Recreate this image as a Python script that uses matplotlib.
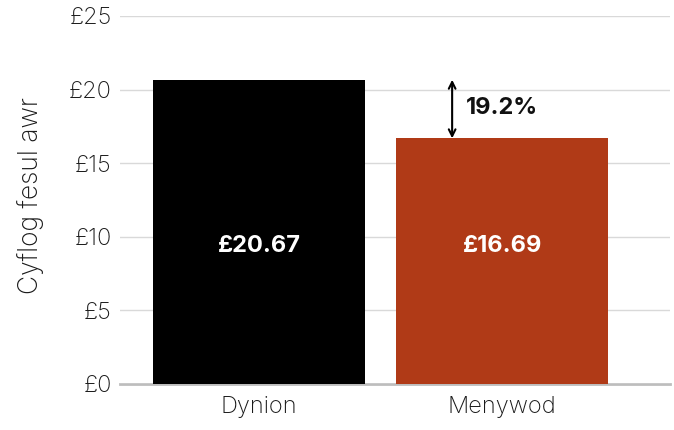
import matplotlib.pyplot as plt

plt.rcParams['font.family'] = ['Inter', 'DejaVu Sans']

groups = ['Dynion', 'Menywod']
wages = [20.67, 16.69]
bar_labels = ['£20.67', '£16.69']
gap_label = '19.2%'
colors = ['#000000', '#b03a17']

fig = plt.figure(figsize=(6.74, 4.30), dpi=100)
ax = fig.add_axes([120 / 674, 46 / 430, 550 / 674, 368 / 430])

x = range(len(groups))
ax.bar(x, wages, width=0.872, color=colors, zorder=2)
# value labels sit at one common height inside the bars
for i, lab in enumerate(bar_labels):
    ax.text(i, 9.4, lab, ha='center', va='center', color='white',
            fontsize=17, fontweight='bold', zorder=3)

# gap arrow between the two bars
ax.annotate('', xy=(0.794, wages[1]), xytext=(0.794, wages[0]),
            arrowprops=dict(arrowstyle='<->', color='black', lw=1.5,
                            shrinkA=0, shrinkB=0, mutation_scale=12), zorder=4)
ax.text(0.85, (wages[0] + wages[1]) / 2 + 0.1, gap_label, ha='left', va='center',
        fontsize=17, fontweight='bold', color='#111111')

ax.set_xlim(-0.572, 1.69)
ax.set_ylim(0, 25)
ax.set_yticks(range(0, 26, 5))
ax.set_yticklabels([f'£{t}' for t in range(0, 26, 5)])
ax.set_xticks(list(x))
ax.set_xticklabels(groups)
ax.tick_params(axis='both', length=0, labelsize=17, colors='#1a1a1a')
ax.tick_params(axis='y', pad=6)
ax.tick_params(axis='x', pad=9)
for lab in ax.get_xticklabels() + ax.get_yticklabels():
    lab.set_fontweight('light')
ax.grid(axis='y', color='#d9d9d9', lw=1, zorder=0)
for s in ['top', 'right', 'left']:
    ax.spines[s].set_visible(False)
ax.spines['bottom'].set_color('#bdbdbd')
ax.spines['bottom'].set_linewidth(2)
ax.spines['bottom'].set_zorder(1)
ax.set_ylabel('Cyflog fesul awr', fontsize=19, color='#1a1a1a', fontweight='light')
ax.yaxis.set_label_coords(-(120 - 44) / 550, 0.513)

fig.savefig('out.png', dpi=100)
